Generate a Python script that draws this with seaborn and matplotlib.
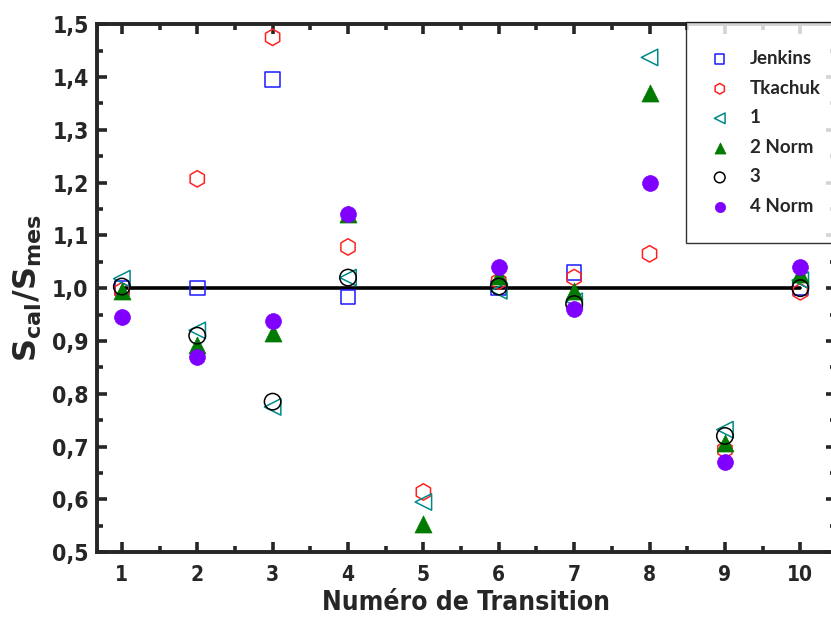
#!/usr/bin/env python3
"""
S_cal/S_mes ratio per transition, several calculation sets
"""

import numpy as np
import matplotlib
matplotlib.use('Agg')
import matplotlib.pyplot as plt
from matplotlib.ticker import MultipleLocator, FuncFormatter
import seaborn as sns

# Data
transitions = [1, 2, 3, 4, 5, 6, 7, 8, 9, 10]
nan = np.nan
jenkins = [1.000, 1.000, 1.395, 0.983, nan, 1.000, 1.030, nan, nan, 1.000]
tkachuk = [0.995, 1.207, 1.475, 1.078, 0.614, 1.013, 1.020, 1.065, 0.694, 0.993]
calc_1 = [1.018, 0.920, 0.775, 1.020, 0.595, 0.995, 0.975, 1.437, 0.732, 1.015]
calc_2_norm = [0.995, 0.893, 0.915, 1.140, 0.553, 1.023, 0.995, 1.370, 0.707, 1.027]
calc_3 = [1.003, 0.910, 0.785, 1.020, nan, 1.003, 0.970, nan, 0.720, 1.000]
calc_4_norm = [0.945, 0.870, 0.938, 1.140, nan, 1.040, 0.960, 1.200, 0.670, 1.040]

ref_x = [1, 10]
ref_y = [1.0, 1.0]

series = [
    ("Jenkins", jenkins, 's', '#1a1aff', False),
    ("Tkachuk", tkachuk, 'h', '#ff2020', False),
    ("1", calc_1, '<', '#008a8a', False),
    ("2 Norm", calc_2_norm, '^', '#007a00', True),
    ("3", calc_3, 'o', '#000000', False),
    ("4 Norm", calc_4_norm, 'o', '#7f00ff', True),
]


def main():
    sns.set_style("ticks")
    plt.rcParams['font.family'] = ['DejaVu Sans']
    plt.rcParams['font.stretch'] = 'condensed'
    plt.rcParams['mathtext.fontset'] = 'custom'
    plt.rcParams['mathtext.rm'] = 'DejaVu Sans:bold'

    fig = plt.figure(figsize=(8.31, 6.19), dpi=100)
    ax = fig.add_axes([0.1167, 0.108, 0.889, 0.853])

    # reference line at 1
    sns.lineplot(x=ref_x, y=ref_y, color='black', linewidth=2.6, ax=ax,
                 zorder=1)

    for name, vals, marker, color, filled in series:
        if filled:
            sns.scatterplot(x=transitions, y=vals, marker=marker, color=color,
                            edgecolor=color, s=150 if marker == '^' else 130,
                            linewidth=0.5, label=name, ax=ax, zorder=3)
        else:
            sns.scatterplot(x=transitions, y=vals, marker=marker,
                            facecolors='none', edgecolor=color,
                            s=140 if marker != 's' else 110,
                            linewidth=1.1, label=name, ax=ax, zorder=3)

    ax.set_xlim(0.67, 10.47)
    ax.set_ylim(0.5, 1.5)
    ax.xaxis.set_major_locator(MultipleLocator(1))
    ax.xaxis.set_minor_locator(MultipleLocator(0.5))
    ax.yaxis.set_major_locator(MultipleLocator(0.1))
    ax.yaxis.set_minor_locator(MultipleLocator(0.05))
    ax.yaxis.set_major_formatter(FuncFormatter(lambda v, p: f"{v:.1f}".replace('.', ',')))

    ax.tick_params(which='both', direction='in', top=True, right=True,
                   width=2.6)
    ax.tick_params(which='major', length=7)
    ax.tick_params(axis='y', which='major', labelsize=16.5, pad=6)
    ax.tick_params(axis='x', which='major', labelsize=15, pad=9)
    ax.tick_params(which='minor', length=4)
    for lab in ax.get_xticklabels() + ax.get_yticklabels():
        lab.set_fontweight('bold')
    for sp in ax.spines.values():
        sp.set_linewidth(2.8)
        sp.set_visible(True)

    ax.set_xlabel("Numéro de Transition", fontsize=19, fontweight='bold',
                  labelpad=4)
    ax.set_ylabel(r"S$_{\mathregular{cal}}$/S$_{\mathregular{mes}}$",
                  fontsize=23, fontweight='bold', fontstretch='normal',
                  labelpad=6)

    leg = ax.legend(loc='upper left', bbox_to_anchor=(0.8255, 0.9645),
                    bbox_transform=fig.transFigure, frameon=True,
                    fancybox=False, edgecolor='black', fontsize=13.5,
                    labelspacing=0.67, handletextpad=1.3, borderpad=1.5,
                    borderaxespad=0, handlelength=0.6, markerscale=0.65)
    leg.get_frame().set_linewidth(1.0)
    for t in leg.get_texts():
        t.set_fontweight('bold')
        t.set_family(['Lato', 'DejaVu Sans'])
        t.set_fontstretch('normal')

    fig.savefig("out.png", dpi=100)
    plt.close(fig)


if __name__ == "__main__":
    main()
